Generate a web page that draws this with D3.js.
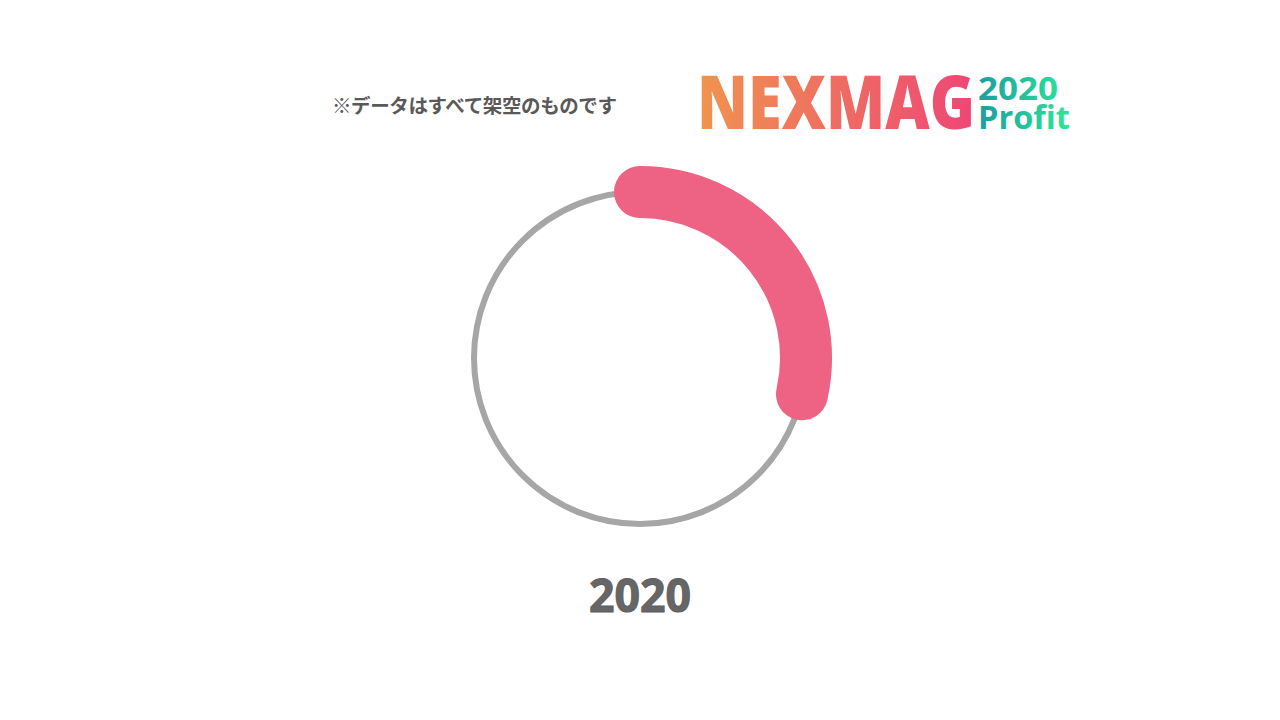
<!DOCTYPE html>
<html>
<head>
<meta charset="utf-8">
<script src="https://cdn.jsdelivr.net/npm/d3@7"></script>
<style>
  html, body { margin: 0; padding: 0; background: #fff; }
  svg text { font-family: "Noto Sans CJK JP", "Noto Sans", sans-serif; }
  svg text.latin { font-family: "Open Sans", "Noto Sans", sans-serif; }
</style>
</head>
<body>
<div id="chart"></div>
<script>
// data
var years = ["2020"];
var profitShare = [28.5];   // percent of the full ring
var scaleMax = [100];
var noteText = ["※データはすべて架空のものです"];
var logoTexts = ["NEXMAG", "2020", "Profit"];

var width = 1280, height = 720;
var cx = 640, cy = 358, radius = 166;

var svg = d3.select("#chart").append("svg")
            .attr("width", width)
            .attr("height", height);

var defs = svg.append("defs");

// gradients for the logo
var gradMain = defs.append("linearGradient").attr("id", "gradMain");
gradMain.append("stop").attr("offset", "0%").attr("stop-color", "#f0944e");
gradMain.append("stop").attr("offset", "100%").attr("stop-color", "#ee4676");

var gradSub = defs.append("linearGradient").attr("id", "gradSub");
gradSub.append("stop").attr("offset", "0%").attr("stop-color", "#1b9ea0");
gradSub.append("stop").attr("offset", "100%").attr("stop-color", "#2fe597");

// note at the top
svg.append("text")
   .attr("x", 332)
   .attr("y", 113)
   .attr("font-size", 19.5)
   .attr("font-weight", "bold")
   .attr("fill", "#595959")
   .attr("textLength", 285)
   .text(noteText[0]);

// logo
svg.append("text")
   .attr("class", "latin")
   .attr("x", 697)
   .attr("y", 129)
   .attr("font-size", 75)
   .attr("font-weight", 800)
   .attr("textLength", 278)
   .attr("lengthAdjust", "spacingAndGlyphs")
   .attr("fill", "url(#gradMain)")
   .text(logoTexts[0]);

// the two small logo lines in one text block
var sub = svg.append("text")
   .attr("class", "latin")
   .attr("font-size", 33)
   .attr("font-weight", "bold")
   .attr("fill", "url(#gradSub)");

sub.append("tspan")
   .attr("x", 978)
   .attr("y", 100)
   .attr("textLength", 80)
   .attr("lengthAdjust", "spacingAndGlyphs")
   .text(logoTexts[1]);

sub.append("tspan")
   .attr("x", 978)
   .attr("y", 129)
   .attr("textLength", 92)
   .attr("lengthAdjust", "spacingAndGlyphs")
   .text(logoTexts[2]);

// angle scale: value -> radians clockwise from 12 o'clock
var angle = d3.scaleLinear()
              .domain([0, scaleMax[0]])
              .range([0, 2 * Math.PI]);

// gray base ring
svg.append("circle")
   .attr("cx", cx)
   .attr("cy", cy)
   .attr("r", radius)
   .attr("fill", "none")
   .attr("stroke", "#a6a6a6")
   .attr("stroke-width", 6);

// pink value arc
profitShare.forEach(function(v) {
  var p = d3.path();
  var a0 = angle(0) - Math.PI / 2;
  var a1 = angle(v) - Math.PI / 2;
  p.moveTo(cx + radius * Math.cos(a0), cy + radius * Math.sin(a0));
  p.arc(cx, cy, radius, a0, a1);
  svg.append("path")
     .attr("d", p.toString())
     .attr("fill", "none")
     .attr("stroke", "#ee6283")
     .attr("stroke-width", 52)
     .attr("stroke-linecap", "round");
});

// year label
svg.selectAll("text.year")
   .data(years)
   .enter().append("text")
   .attr("class", "year latin")
   .attr("x", cx)
   .attr("y", 612)
   .attr("text-anchor", "middle")
   .attr("font-size", 46)
   .attr("font-weight", "bold")
   .attr("fill", "#666666")
   .attr("stroke", "#5e5e5e")
   .attr("stroke-width", 1)
   .attr("textLength", 102)
   .attr("lengthAdjust", "spacingAndGlyphs")
   .text(function(d) { return d; });
</script>
</body>
</html>
